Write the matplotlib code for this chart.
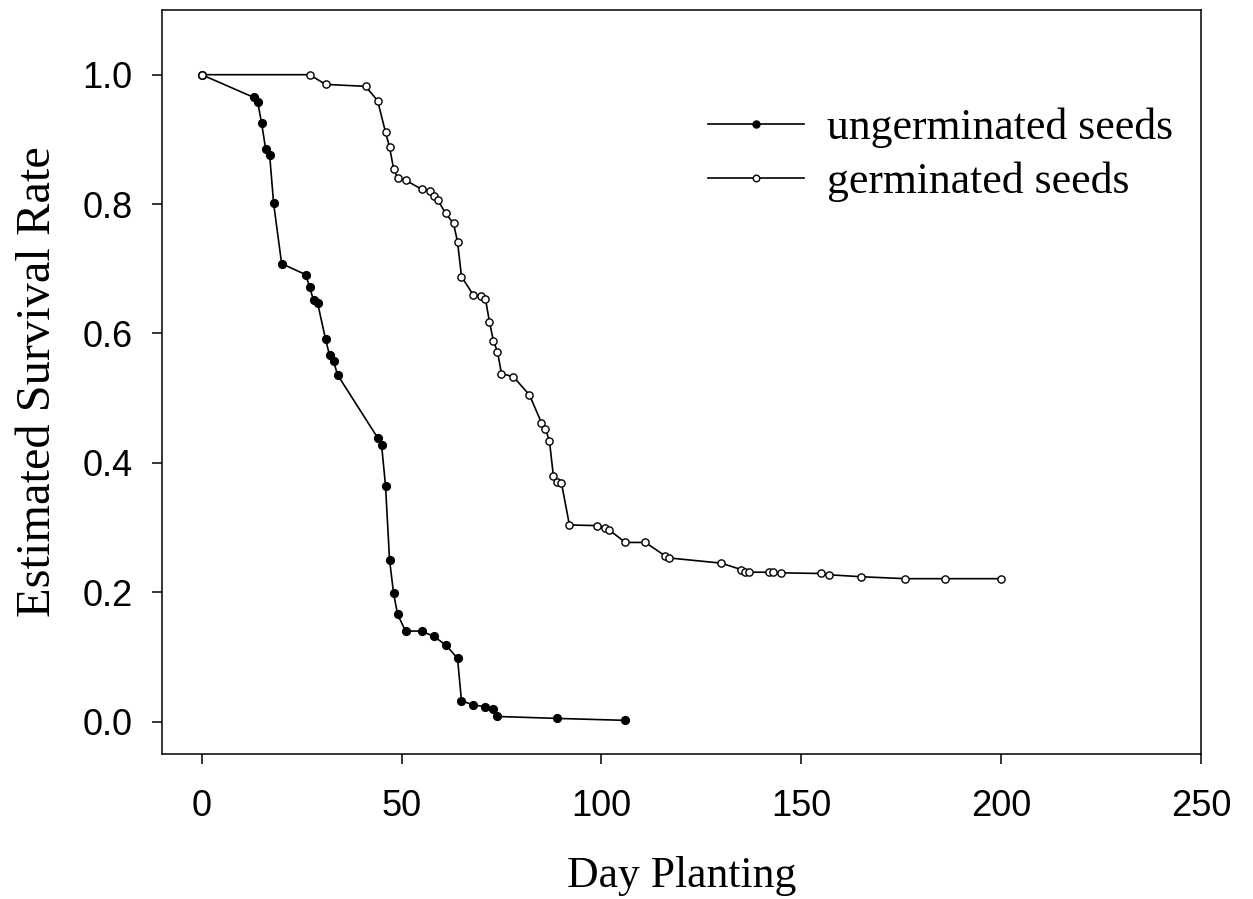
import matplotlib
matplotlib.use("Agg")
import matplotlib.pyplot as plt

# Ungerminated seeds
ung_day = [0, 13, 14, 15, 16, 17, 18, 20, 26, 27, 28, 29, 31, 32, 33, 34,
           44, 45, 46, 47, 48, 49, 51, 55, 58, 61, 64, 65, 68, 71, 73, 74, 89, 106]
ung_surv = [1.000, 0.965, 0.958, 0.925, 0.885, 0.876, 0.801, 0.708, 0.691, 0.672,
            0.651, 0.647, 0.591, 0.566, 0.557, 0.536, 0.439, 0.428, 0.364, 0.250,
            0.199, 0.166, 0.140, 0.140, 0.132, 0.119, 0.098, 0.032, 0.026, 0.023,
            0.020, 0.008, 0.005, 0.002]

# Germinated seeds
ger_day = [0, 27, 31, 41, 44, 46, 47, 48, 49, 51, 55, 57, 58, 59, 61, 63, 64, 65,
           68, 70, 71, 72, 73, 74, 75, 78, 82, 85, 86, 87, 88, 89, 90, 92, 99, 101,
           102, 106, 111, 116, 117, 130, 135, 136, 137, 142, 143, 145, 155, 157,
           165, 176, 186, 200]
ger_surv = [1.000, 1.000, 0.985, 0.982, 0.960, 0.911, 0.888, 0.855, 0.840, 0.837,
            0.823, 0.821, 0.812, 0.807, 0.786, 0.770, 0.742, 0.688, 0.659, 0.658,
            0.653, 0.618, 0.588, 0.572, 0.538, 0.533, 0.505, 0.462, 0.452, 0.434,
            0.379, 0.371, 0.369, 0.304, 0.303, 0.300, 0.296, 0.277, 0.277, 0.256,
            0.253, 0.245, 0.235, 0.232, 0.231, 0.231, 0.231, 0.230, 0.229, 0.227,
            0.224, 0.221, 0.221, 0.221]

xticks = [0, 50, 100, 150, 200, 250]
yticks = [0.0, 0.2, 0.4, 0.6, 0.8, 1.0]

fig = plt.figure(figsize=(12.53, 8.99), dpi=100)
ax = fig.add_axes([161.7 / 1253, 1 - 754 / 899, (1201 - 161.7) / 1253, (754 - 10) / 899])

ax.plot(ung_day, ung_surv, color="black", lw=1.2, marker="o", ms=5.8,
        mfc="black", mec="black", mew=0.8, label="ungerminated seeds")
ax.plot(ger_day, ger_surv, color="black", lw=1.2, marker="o", ms=5.2,
        mfc="white", mec="black", mew=1.0, label="germinated seeds")

ax.set_xlim(-10, 250)
ax.set_ylim(-0.05, 1.1)
ax.set_xticks(xticks)
ax.set_xticklabels([str(v) for v in xticks])
ax.set_yticks(yticks)
ax.set_yticklabels([f"{v:.1f}" for v in yticks])

for s in ax.spines.values():
    s.set_linewidth(1.1)

ax.tick_params(axis="both", direction="out", length=7, width=1.1,
               labelsize=26)
ax.tick_params(axis="x", pad=18)
ax.tick_params(axis="y", pad=14)
for lab in ax.get_xticklabels() + ax.get_yticklabels():
    lab.set_fontfamily("Liberation Sans")

ax.set_xlabel("Day Planting", fontsize=31.5, fontfamily="Liberation Serif", labelpad=23.5)
ax.set_ylabel("Estimated Survival Rate", fontsize=34.8, fontfamily="Liberation Serif", labelpad=16)

leg = ax.legend(loc="upper left", bbox_to_anchor=(0.5256, 0.869), frameon=False,
                prop={"family": "Liberation Serif", "size": 31.5},
                handlelength=2.2, handletextpad=0.52, labelspacing=0.32,
                borderpad=0, borderaxespad=0, markerscale=0.9)

fig.savefig("out.png", dpi=100)
